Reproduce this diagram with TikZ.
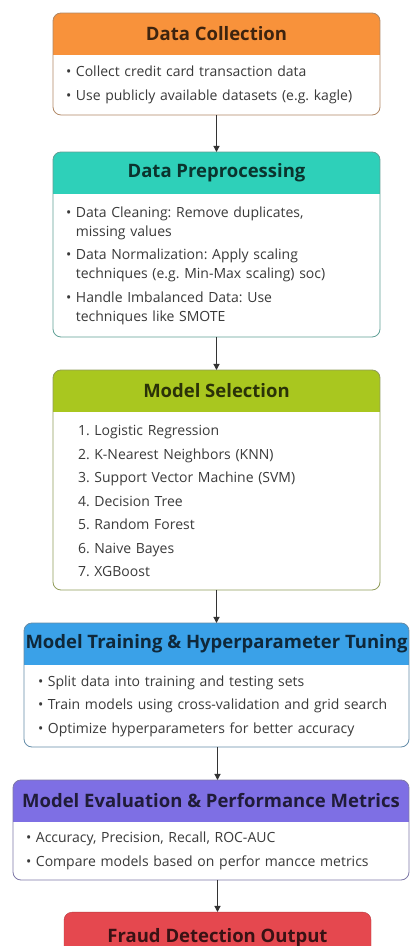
\documentclass[tikz,border=0pt]{standalone}
\usepackage{fontspec}
\setmainfont{Open Sans}
\frenchspacing
\usetikzlibrary{arrows.meta,positioning,backgrounds}
\definecolor{hdorange}{HTML}{F8923B}
\definecolor{hdteal}{HTML}{2ED0B9}
\definecolor{hdlime}{HTML}{A9C71F}
\definecolor{hdblue}{HTML}{3AA1E8}
\definecolor{hdpurple}{HTML}{7E6FE4}
\definecolor{hdred}{HTML}{E5484F}
\definecolor{bodytext}{HTML}{3A3A3A}
\definecolor{linegray}{HTML}{333333}
\tikzset{
  hdr/.style={
    rectangle,
    inner sep=0pt,
    outer sep=0pt,
    minimum height=42pt,
    font=\fontsize{18.5}{22}\selectfont\bfseries
  },
  body/.style={
    rectangle,
    inner xsep=13pt,
    inner ysep=0pt,
    outer sep=0pt,
    align=left,
    text=bodytext,
    font=\fontsize{14}{19}\selectfont
  },
  outbox/.style={
    rectangle,
    rounded corners=8pt,
    fill=hdred,
    draw=hdred!80!black,
    text=hdred!25!black,
    inner sep=0pt,
    font=\fontsize{18.5}{22}\selectfont\bfseries
  },
  line/.style={-{Triangle[length=6pt,width=6pt]}, line width=1.1pt, draw=linegray}
}
\begin{document}
\begin{tikzpicture}
  \useasboundingbox (0,0) rectangle (411pt,946pt);

  \node[hdr, minimum width=327pt, anchor=north, text=hdorange!25!black] (hd1) at (216.5pt,933pt) {Data Collection};
  \node[body, text width=301pt, minimum height=60pt, below=0pt of hd1] (bd1)
    {• Collect credit card transaction data\\[4.5pt]
     • Use publicly available datasets (e.g. kagle)};

  \node[hdr, minimum width=327pt, below=37pt of bd1, text=hdteal!25!black] (hd2) {Data Preprocessing};
  \node[body, text width=301pt, minimum height=143pt, below=0pt of hd2] (bd2)
    {• Data Cleaning: Remove duplicates,\\
     \phantom{• }missing values\\[4.5pt]
     • Data Normalization: Apply scaling\\
     \phantom{• }techniques (e.g. Min-Max scaling) soc)\\[4.5pt]
     • Handle Imbalanced Data: Use\\
     \phantom{• }techniques like SMOTE};

  \node[hdr, minimum width=327pt, below=33pt of bd2, text=hdlime!25!black] (hd3) {Model Selection};
  \node[body, inner xsep=25pt, text width=277pt, minimum height=178pt, below=0pt of hd3] (bd3)
    {1. Logistic Regression\\[4.5pt]
     2. K-Nearest Neighbors (KNN)\\[4.5pt]
     3. Support Vector Machine (SVM)\\[4.5pt]
     4. Decision Tree\\[4.5pt]
     5. Random Forest\\[4.5pt]
     6. Naive Bayes\\[4.5pt]
     7. XGBoost};

  \node[hdr, minimum width=385pt, below=33pt of bd3, text=hdblue!25!black] (hd4) {Model Training \& Hyperparameter Tuning};
  \node[body, inner xsep=14pt, text width=357pt, minimum height=82pt, below=0pt of hd4] (bd4)
    {• Split data into training and testing sets\\[4.5pt]
     • Train models using cross-validation and grid search\\[4.5pt]
     • Optimize hyperparameters for better accuracy};

  \node[hdr, minimum width=396pt, below=33pt of bd4, xshift=-5.5pt, text=hdpurple!25!black] (hd5) {Model Evaluation \& Performance Metrics};
  \node[body, text width=370pt, minimum height=58pt, below=0pt of hd5] (bd5)
    {• Accuracy, Precision, Recall, ROC-AUC\\[4.5pt]
     • Compare models based on perfor mancce metrics};

  \node[outbox, minimum width=307pt, minimum height=50pt, below=32pt of bd5, xshift=6.5pt] (out) {Fraud Detection Output};

  \begin{scope}[on background layer]
    \fill[white] (0,0) rectangle (411pt,946pt);
    \foreach \n/\c in {1/hdorange,2/hdteal,3/hdlime,4/hdblue,5/hdpurple}{
      \begin{scope}
        \clip[rounded corners=8pt] (hd\n.north west) rectangle (bd\n.south east);
        \fill[\c] (hd\n.north west) rectangle (hd\n.south east);
      \end{scope}
      \draw[\c!40!gray, line width=0.8pt, rounded corners=8pt] (hd\n.north west) rectangle (bd\n.south east);
    }
  \end{scope}

  \draw[line] (bd1) -- (hd2);
  \draw[line] (bd2) -- (hd3);
  \draw[line] (bd3) -- (hd4);
  \draw[line] (bd4.south -| out.north) -- (hd5.north -| out.north);
  \draw[line] (bd5.south -| out.north) -- (out);
\end{tikzpicture}
\end{document}
